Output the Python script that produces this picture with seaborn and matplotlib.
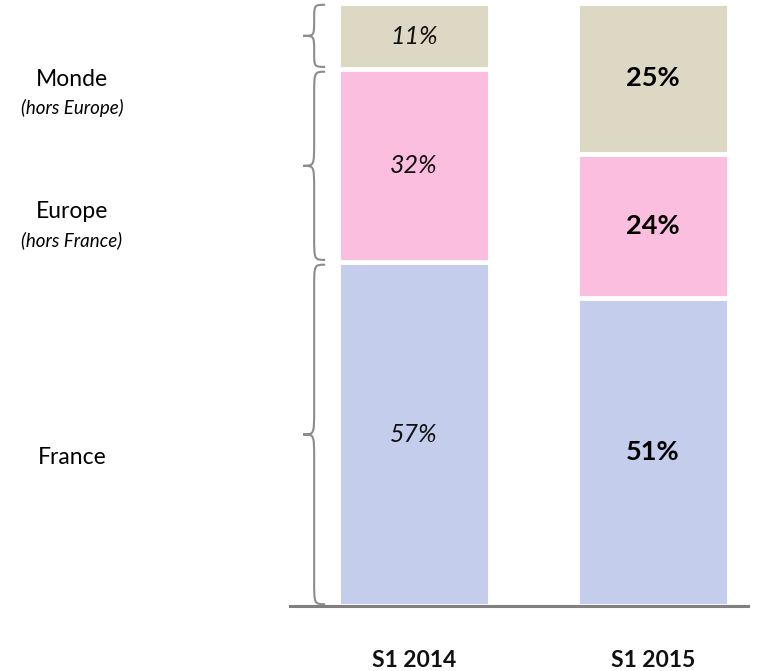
import matplotlib
matplotlib.use("Agg")
import matplotlib.pyplot as plt
from matplotlib.path import Path
from matplotlib.patches import PathPatch
import numpy as np
import pandas as pd
import seaborn as sns

periods = ["S1 2014", "S1 2015"]
france = [57, 51]
europe = [32, 24]
monde = [11, 25]

segment_names = ["France", "Europe", "Monde"]
colors = {"France": "#C5CDEC", "Europe": "#FCBEDF", "Monde": "#DDD8C3"}

sns.set_theme(style="white")
plt.rcParams["font.family"] = ["Lato", "DejaVu Sans"]
plt.rcParams["text.color"] = "black"

df = pd.DataFrame({"period": periods, "France": france,
                   "Europe": europe, "Monde": monde})
df["top_europe"] = df["France"] + df["Europe"]
df["top_monde"] = df["top_europe"] + df["Monde"]

fig = plt.figure(figsize=(7.63, 6.71), dpi=100)
ax = fig.add_axes([290 / 763, 65 / 671, 458 / 763, 603 / 671])

# layered bars give the stacked look
for col, name in [("top_monde", "Monde"), ("top_europe", "Europe"), ("France", "France")]:
    sns.barplot(data=df, x="period", y=col, color=colors[name], width=0.636,
                edgecolor="white", linewidth=3.5, saturation=1, ax=ax)

ax.set_ylim(0, 100)
ax.set_xlim(-0.519, 1.397)
ax.set_xlabel("")
ax.set_ylabel("")
ax.set_yticks([])
for s in ["top", "right", "left"]:
    ax.spines[s].set_visible(False)
ax.spines["bottom"].set_color("#808080")
ax.spines["bottom"].set_linewidth(2.2)
ax.tick_params(axis="x", length=0, pad=32)
for lbl in ax.get_xticklabels():
    lbl.set_fontsize(16.5)
    lbl.set_fontweight("bold")
    lbl.set_color("#111111")

# values inside the segments
for i in range(len(periods)):
    bounds = [0, france[i], france[i] + europe[i], 100]
    vals = [france[i], europe[i], monde[i]]
    for k, v in enumerate(vals):
        mid = (bounds[k] + bounds[k + 1]) / 2
        if i == 0:
            ax.text(i, mid, f"{v}%", ha="center", va="center", fontsize=18,
                    style="italic", color="#111111")
        else:
            ax.text(i, mid, f"{v}%", ha="center", va="center", fontsize=19.5,
                    fontweight="bold", color="black")


def brace(ax, y0, y1, x_tip=-0.464, x_end=-0.372):
    xm = (x_tip + x_end) / 2
    ym = (y0 + y1) / 2
    r = min(4.0, (y1 - y0) / 4)
    verts = [
        (x_end, y1), (xm, y1), (xm, y1), (xm, y1 - r),
        (xm, ym + r),
        (xm, ym), (xm, ym), (x_tip, ym),
        (xm, ym), (xm, ym), (xm, ym - r),
        (xm, y0 + r),
        (xm, y0), (xm, y0), (x_end, y0),
    ]
    codes = [Path.MOVETO, Path.CURVE4, Path.CURVE4, Path.CURVE4,
             Path.LINETO,
             Path.CURVE4, Path.CURVE4, Path.CURVE4,
             Path.CURVE4, Path.CURVE4, Path.CURVE4,
             Path.LINETO,
             Path.CURVE4, Path.CURVE4, Path.CURVE4]
    ax.add_patch(PathPatch(Path(verts, codes), fill=False, edgecolor="#8C8C8C",
                           linewidth=1.5, clip_on=False))


b = [0, france[0], france[0] + europe[0], 100]
brace(ax, b[0] + 0.3, b[1] - 0.4)
brace(ax, b[1] + 0.4, b[2] - 0.4)
brace(ax, b[2] + 0.4, b[3] - 0.3)

# region labels on the left
fig.text(72 / 763, 1 - 80 / 671, "Monde", ha="center", va="center", fontsize=16.5)
fig.text(72 / 763, 1 - 108 / 671, "(hors Europe)", ha="center", va="center",
         fontsize=13.5, style="italic")
fig.text(72 / 763, 1 - 212 / 671, "Europe", ha="center", va="center", fontsize=16.5)
fig.text(72 / 763, 1 - 240 / 671, "(hors France)", ha="center", va="center",
         fontsize=13.5, style="italic")
fig.text(72 / 763, 1 - 457 / 671, "France", ha="center", va="center", fontsize=16.5)

fig.savefig("out.png", dpi=100)
